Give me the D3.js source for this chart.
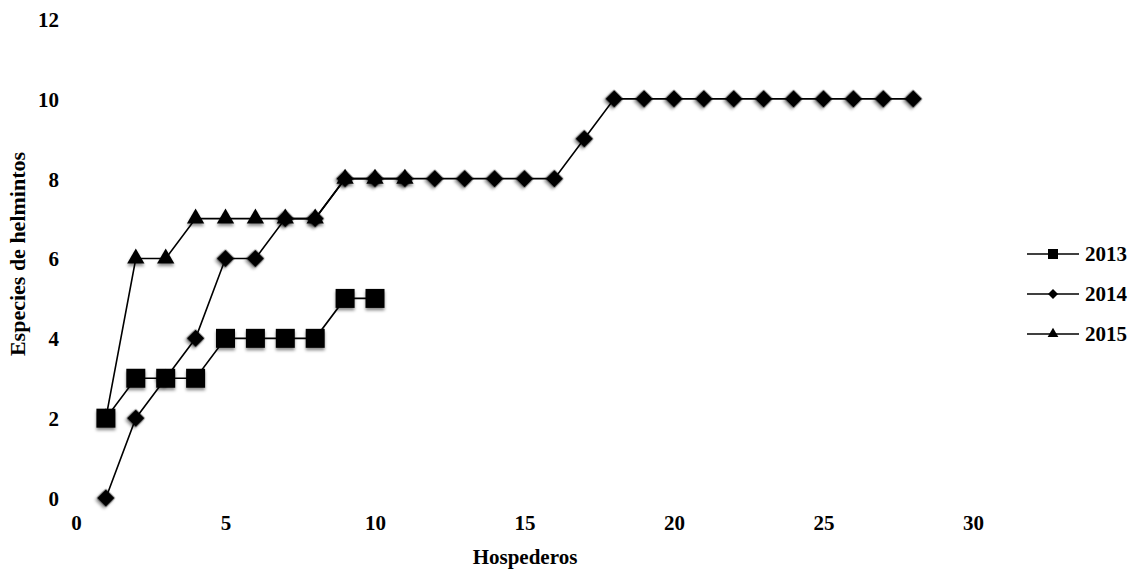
<!DOCTYPE html>
<html>
<head>
<meta charset="utf-8">
<script src="https://cdn.jsdelivr.net/npm/d3@7"></script>
<style>
  body { margin: 0; background: #fff; }
  text { font-family: "Liberation Serif", "Times New Roman", serif; font-weight: bold; fill: #000; }
</style>
</head>
<body>
<div id="chart"></div>
<script>
// data
var years = ["2013", "2014", "2015"];
var hosts2013 = [1, 2, 3, 4, 5, 6, 7, 8, 9, 10];
var species2013 = [2, 3, 3, 3, 4, 4, 4, 4, 5, 5];
var hosts2014 = [1, 2, 3, 4, 5, 6, 7, 8, 9, 10, 11, 12, 13, 14, 15, 16, 17, 18, 19, 20, 21, 22, 23, 24, 25, 26, 27, 28];
var species2014 = [0, 2, 3, 4, 6, 6, 7, 7, 8, 8, 8, 8, 8, 8, 8, 8, 9, 10, 10, 10, 10, 10, 10, 10, 10, 10, 10, 10];
var hosts2015 = [1, 2, 3, 4, 5, 6, 7, 8, 9, 10, 11];
var species2015 = [2, 6, 6, 7, 7, 7, 7, 7, 8, 8, 8];
var xTicks = [0, 5, 10, 15, 20, 25, 30];
var yTicks = [0, 2, 4, 6, 8, 10, 12];

var width = 1139, height = 572;

var x = d3.scaleLinear().domain([0, 30]).range([76, 973]);
var y = d3.scaleLinear().domain([0, 12]).range([498, 19]);

var svg = d3.select("#chart").append("svg")
  .attr("width", width)
  .attr("height", height);

var defs = svg.append("defs");
defs.append("filter")
  .attr("id", "shadow")
  .attr("x", "-50%").attr("y", "-50%")
  .attr("width", "200%").attr("height", "200%")
  .append("feDropShadow")
  .attr("dx", 0).attr("dy", 2.5)
  .attr("stdDeviation", 1.6)
  .attr("flood-color", "#000")
  .attr("flood-opacity", 0.45);

// marker shapes
function markerPath(year, big) {
  if (year === "2013") return d3.symbol(d3.symbolSquare, big ? 361 : 100)();
  if (year === "2014") return d3.symbol(d3.symbolSquare, big ? 160 : 50)();
  return d3.symbol(d3.symbolTriangle, big ? 130 : 50)();
}
function markerRotate(year) { return year === "2014" ? " rotate(45)" : ""; }

// axes (labels only, no lines)
svg.append("g")
  .attr("transform", "translate(0,523)")
  .call(d3.axisBottom(x).tickValues(xTicks).tickSize(0).tickPadding(0))
  .call(g => g.select(".domain").remove())
  .selectAll("text")
  .attr("dy", "0.35em")
  .style("font-size", "21px")
  .style("font-family", "Liberation Serif, serif")
  .style("font-weight", "bold");

svg.append("g")
  .attr("transform", "translate(59,0)")
  .call(d3.axisLeft(y).tickValues(yTicks).tickSize(0).tickPadding(0))
  .call(g => g.select(".domain").remove())
  .selectAll("text")
  .attr("dy", "0.35em")
  .style("font-size", "21px")
  .style("font-family", "Liberation Serif, serif")
  .style("font-weight", "bold");

svg.append("text")
  .attr("x", 525).attr("y", 557)
  .attr("text-anchor", "middle")
  .attr("dy", "0.35em")
  .style("font-size", "21px")
  .text("Hospederos");

svg.append("text")
  .attr("transform", "translate(17,254) rotate(-90)")
  .attr("text-anchor", "middle")
  .attr("dy", "0.35em")
  .style("font-size", "22px")
  .text("Especies de helmintos");

var series = {
  "2013": hosts2013.map((h, i) => ({ h: h, s: species2013[i] })),
  "2014": hosts2014.map((h, i) => ({ h: h, s: species2014[i] })),
  "2015": hosts2015.map((h, i) => ({ h: h, s: species2015[i] }))
};

var line = d3.line().x(d => x(d.h)).y(d => y(d.s));

// draw order: 2014 at the back, 2013 on top
["2014", "2015", "2013"].forEach(function (yr) {
  var g = svg.append("g");
  g.append("path")
    .datum(series[yr])
    .attr("fill", "none")
    .attr("stroke", "#000")
    .attr("stroke-width", 1.6)
    .attr("d", line);
  g.selectAll("path.mk")
    .data(series[yr])
    .enter()
    .append("path")
    .attr("class", "mk")
    .attr("d", markerPath(yr, true))
    .attr("fill", "#000")
    .attr("filter", "url(#shadow)")
    .attr("transform", d => `translate(${x(d.h)},${y(d.s)})` + markerRotate(yr));
});

// legend
var legend = svg.append("g");
var legendY = d3.scalePoint().domain(years).range([254, 334]);
years.forEach(function (yr) {
  var ly = legendY(yr);
  legend.append("line")
    .attr("x1", 1027).attr("x2", 1079)
    .attr("y1", ly).attr("y2", ly)
    .attr("stroke", "#000")
    .attr("stroke-width", 1.6);
  legend.append("path")
    .attr("d", markerPath(yr, false))
    .attr("fill", "#000")
    .attr("transform", `translate(1053,${ly})` + markerRotate(yr));
  legend.append("text")
    .attr("x", 1085).attr("y", ly)
    .attr("dy", "0.35em")
    .style("font-size", "21px")
    .text(yr);
});
</script>
</body>
</html>
